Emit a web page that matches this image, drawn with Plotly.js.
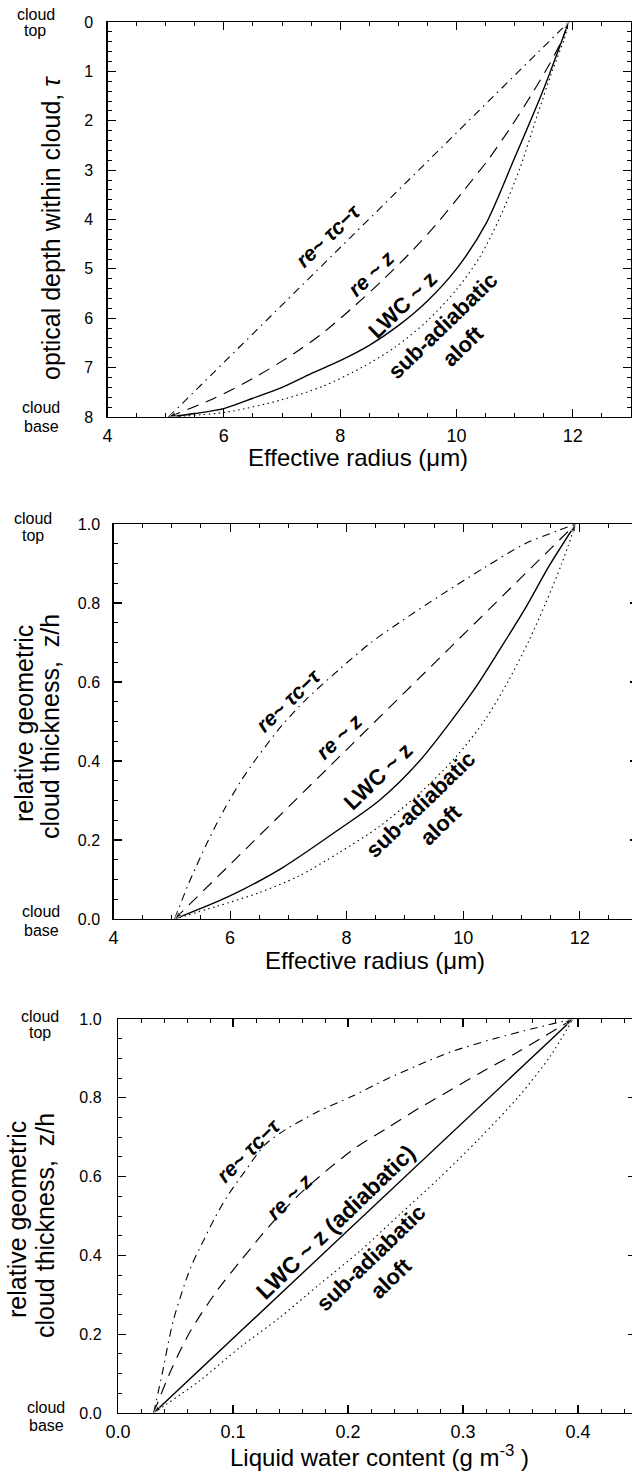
<!DOCTYPE html>
<html>
<head>
<meta charset="utf-8">
<script src="https://cdn.plot.ly/plotly-3.0.1.min.js"></script>
<style>
html,body{margin:0;padding:0;background:#fff;overflow:hidden;}
#chart{width:660px;height:1471px;}
</style>
</head>
<body>
<div id="chart"></div>
<script>
// ---------- DATA ----------
// Panel 1: optical depth within cloud (tau) vs effective radius (um)
const p1_r_dashdot   = [5.05, 11.93];
const p1_tau_dashdot = [8.0, 0.0];
const p1_r_dash      = [5.05, 5.8, 6.5, 7.2, 7.7, 8.2, 8.7, 9.2, 9.65, 10.1, 10.55, 10.95, 11.3, 11.6, 11.8, 11.93];
const p1_tau_dash    = [8.0, 7.64, 7.22, 6.72, 6.30, 5.80, 5.26, 4.68, 4.10, 3.45, 2.78, 2.10, 1.45, 0.85, 0.40, 0.0];
const p1_r_solid     = [5.05, 5.5, 6.0, 6.5, 7.0, 7.5, 8.0, 8.5, 9.0, 9.5, 10.0, 10.5, 11.0, 11.5, 11.93];
const p1_tau_solid   = [8.0, 7.93, 7.83, 7.62, 7.40, 7.12, 6.86, 6.55, 6.15, 5.65, 5.0, 4.1, 2.75, 1.35, 0.0];
const p1_r_dot       = [5.05, 6.05, 7.0, 7.7, 8.4, 8.95, 9.5, 10.0, 10.4, 10.75, 11.1, 11.38, 11.65, 11.85, 11.93];
const p1_tau_dot     = [8.0, 7.9, 7.65, 7.38, 6.98, 6.58, 6.05, 5.42, 4.76, 3.95, 2.93, 1.92, 0.98, 0.35, 0.0];

// Panel 2: relative geometric cloud thickness (z/h) vs effective radius (um)
const p2_r_dashdot = [5.05, 5.29, 5.63, 5.91, 6.19, 6.47, 6.89, 7.30, 7.86, 8.42, 8.97, 9.67, 10.37, 11.06, 11.62, 11.93];
const p2_z_dashdot = [0.0, 0.09, 0.20, 0.28, 0.35, 0.41, 0.49, 0.555, 0.63, 0.70, 0.757, 0.825, 0.89, 0.95, 0.983, 1.0];
const p2_r_dash    = [5.05, 11.93];
const p2_z_dash    = [0.0, 1.0];
const p2_r_solid   = [5.05, 5.98, 6.89, 7.86, 8.56, 9.25, 10.16, 10.64, 11.06, 11.48, 11.93];
const p2_z_solid   = [0.0, 0.057, 0.129, 0.226, 0.30, 0.40, 0.575, 0.685, 0.785, 0.895, 1.0];
const p2_r_dot     = [5.05, 5.77, 6.47, 7.17, 7.86, 8.56, 9.25, 9.88, 10.37, 10.78, 11.13, 11.41, 11.69, 11.93];
const p2_z_dot     = [0.0, 0.032, 0.065, 0.108, 0.167, 0.234, 0.318, 0.411, 0.503, 0.604, 0.705, 0.798, 0.899, 1.0];

// Panel 3: relative geometric cloud thickness (z/h) vs liquid water content (g m-3)
const p3_lwc_dashdot = [0.031, 0.039, 0.048, 0.063, 0.0724, 0.084, 0.0957, 0.110, 0.1275, 0.145, 0.174, 0.203, 0.232, 0.261, 0.29, 0.327, 0.364, 0.3956];
const p3_z_dashdot   = [0.0, 0.108, 0.234, 0.368, 0.426, 0.494, 0.553, 0.612, 0.680, 0.718, 0.765, 0.803, 0.845, 0.883, 0.917, 0.95, 0.978, 1.0];
const p3_lwc_dash    = [0.031, 0.046, 0.063, 0.086, 0.106, 0.125, 0.140, 0.157, 0.180, 0.206, 0.234, 0.262, 0.287, 0.316, 0.347, 0.3956];
const p3_z_dash      = [0.0, 0.108, 0.208, 0.31, 0.384, 0.452, 0.502, 0.553, 0.612, 0.672, 0.723, 0.774, 0.816, 0.865, 0.915, 1.0];
const p3_lwc_solid   = [0.031, 0.3956];
const p3_z_solid     = [0.0, 1.0];
const p3_lwc_dot     = [0.031, 0.0711, 0.1058, 0.1405, 0.175, 0.21, 0.2446, 0.279, 0.314, 0.349, 0.376, 0.3956];
const p3_z_dot       = [0.0, 0.082, 0.166, 0.242, 0.326, 0.41, 0.503, 0.595, 0.696, 0.805, 0.906, 1.0];

// Curve labels
const labelRe1   = "re~ τc−τ";
const labelRe2   = "re ~ z";
const labelLwc   = "LWC ~ z";
const labelLwcAd = "LWC ~ z (adiabatic)";
const labelSub   = "sub-adiabatic<br>aloft";

// Axis texts
const yTitle1  = "optical depth within cloud, <i>τ</i>";
const yTitleA  = "relative geometric";
const yTitleB  = "cloud thickness,  z/h";
const xTitle12 = "Effective radius (μm)";
const xTitle3  = "Liquid water content (g m<sup>-3</sup> )";

// ---------- LAYOUT HELPERS ----------
const W = 660, H = 1471;
const FONT = "Liberation Sans, Arial, Helvetica, sans-serif";
const px = v => v / W;
const py = v => 1 - v / H;

const styles = {
  dashdot: {color: "#000", width: 1.1, dash: "8px,5px,1.5px,5px"},
  dash:    {color: "#000", width: 1.15, dash: "12px,8px"},
  solid:   {color: "#000", width: 1.4},
  dot:     {color: "#000", width: 1.1, dash: "1.5px,3.5px"}
};

function tr(x, y, st, xa, ya) {
  const line = Object.assign({}, styles[st]);
  if (x.length > 2) { line.shape = "spline"; line.smoothing = 0.8; }
  return {x: x, y: y, type: "scatter", mode: "lines", line: line,
          xaxis: xa, yaxis: ya, hoverinfo: "skip", showlegend: false};
}
// arrowhead at the end of a two-point segment taken from a series
function head(x0, y0, x1, y1, xa, ya) {
  return {x: [x0, x1], y: [y0, y1], type: "scatter", mode: "markers",
          marker: {symbol: "arrow", angleref: "previous", size: [0, 8], color: "#000"},
          xaxis: xa, yaxis: ya, hoverinfo: "skip", showlegend: false};
}

const n1 = p1_r_dash.length, n3 = p3_lwc_dash.length;
const data = [
  tr(p1_r_dashdot, p1_tau_dashdot, "dashdot", "x", "y"),
  tr(p1_r_dash, p1_tau_dash, "dash", "x", "y"),
  tr(p1_r_solid, p1_tau_solid, "solid", "x", "y"),
  tr(p1_r_dot, p1_tau_dot, "dot", "x", "y"),
  tr(p2_r_dashdot, p2_z_dashdot, "dashdot", "x2", "y2"),
  tr(p2_r_dash, p2_z_dash, "dash", "x2", "y2"),
  tr(p2_r_solid, p2_z_solid, "solid", "x2", "y2"),
  tr(p2_r_dot, p2_z_dot, "dot", "x2", "y2"),
  tr(p3_lwc_dashdot, p3_z_dashdot, "dashdot", "x3", "y3"),
  tr(p3_lwc_dash, p3_z_dash, "dash", "x3", "y3"),
  tr(p3_lwc_solid, p3_z_solid, "solid", "x3", "y3"),
  tr(p3_lwc_dot, p3_z_dot, "dot", "x3", "y3"),
  head(p1_r_dash[n1-2], p1_tau_dash[n1-2], p1_r_dash[n1-1], p1_tau_dash[n1-1], "x", "y"),
  head(p1_r_dash[1], p1_tau_dash[1], p1_r_dash[0], p1_tau_dash[0], "x", "y"),
  head(p2_r_dot[12], p2_z_dot[12], p2_r_dot[13], p2_z_dot[13], "x2", "y2"),
  head(p2_r_dash[1], p2_z_dash[1], p2_r_dash[0], p2_z_dash[0], "x2", "y2"),
  head(p3_lwc_dash[n3-2], p3_z_dash[n3-2], p3_lwc_dash[n3-1], p3_z_dash[n3-1], "x3", "y3"),
  head(p3_lwc_solid[1], p3_z_solid[1], p3_lwc_solid[0], p3_z_solid[0], "x3", "y3")
];

function axis(o) {
  return Object.assign({
    showline: true, linecolor: "#000", linewidth: 1.2, mirror: "allticks",
    ticks: "inside", ticklen: 8, tickwidth: 1.1, tickcolor: "#000",
    showgrid: false, zeroline: false, fixedrange: true,
    tickfont: {family: FONT, size: 16, color: "#000"}
  }, o);
}
function minor(d) {
  return {dtick: d, ticks: "inside", ticklen: 4, tickwidth: 1, tickcolor: "#000", showgrid: false};
}

const xTickFont = {family: FONT, size: 18, color: "#000"};

const layout = {
  width: W, height: H,
  margin: {l: 0, r: 0, t: 0, b: 0},
  paper_bgcolor: "#fff", plot_bgcolor: "#fff",
  font: {family: FONT, color: "#000"},
  showlegend: false,
  xaxis:  axis({domain: [px(107.5), px(631)], range: [4, 13], tick0: 4, dtick: 2, minor: minor(0.5), anchor: "y", tickfont: xTickFont, ticklabelstandoff: 2}),
  yaxis:  axis({domain: [py(417), py(22)], range: [8, 0], tick0: 0, dtick: 1, minor: minor(0.2), anchor: "x", ticklabelstandoff: 10}),
  xaxis2: axis({domain: [px(113.5), px(638)], range: [4, 13], tick0: 4, dtick: 2, minor: minor(0.5), anchor: "y2", tickfont: xTickFont, ticklabelstandoff: 2}),
  yaxis2: axis({domain: [py(919), py(524)], range: [0, 1], tick0: 0, dtick: 0.2, tickformat: ".1f", minor: minor(0.05), anchor: "x2", ticklabelstandoff: 9}),
  xaxis3: axis({domain: [px(118), px(635.5)], range: [0, 0.45], tick0: 0, dtick: 0.1, tickformat: ".1f", minor: minor(0.02), anchor: "y3", tickfont: xTickFont, ticklabelstandoff: 2}),
  yaxis3: axis({domain: [py(1413), py(1019)], range: [0, 1], tick0: 0, dtick: 0.2, tickformat: ".1f", minor: minor(0.05), anchor: "x3", ticklabelstandoff: 12}),
  annotations: []
};

const A = layout.annotations;
function paperText(text, x, y, size, angle) {
  A.push({text: text, xref: "paper", yref: "paper", x: px(x), y: py(y),
    xanchor: "center", yanchor: "middle", showarrow: false, textangle: angle || 0,
    font: {family: FONT, size: size, color: "#000"}});
}
function dataText(text, xa, ya, x, y, size, angle) {
  A.push({text: text, xref: xa, yref: ya, x: x, y: y, xanchor: "center", yanchor: "middle",
    showarrow: false, textangle: angle, font: {family: FONT, size: size, color: "#000"}});
}

// axis titles
paperText(yTitle1, 51, 228, 25, -90);
paperText(yTitleA, 24, 724, 25, -90);
paperText(yTitleB, 50, 727, 25, -90);
paperText(yTitleA, 17, 1220, 25, -90);
paperText(yTitleB, 45, 1226, 25, -90);
paperText(xTitle12, 358, 458, 24, 0);
paperText(xTitle12, 375, 960, 24, 0);
paperText(xTitle3, 379, 1456, 24, 0);

// cloud top / cloud base markers
paperText("cloud", 36, 15, 16); paperText("top", 35, 30, 16);
paperText("cloud", 41, 407, 16); paperText("base", 42, 427, 16);
paperText("cloud", 33, 518, 16); paperText("top", 33, 535, 16);
paperText("cloud", 41, 911, 16); paperText("base", 42, 930, 16);
paperText("cloud", 40, 1016, 16); paperText("top", 40, 1032, 16);
paperText("cloud", 46, 1407, 16); paperText("base", 46, 1425, 16);

// curve labels
const ANG = -44;
dataText("<b><i>" + labelRe1 + "</i></b>", "x", "y", 7.79, 4.33, 21, ANG);
dataText("<b><i>" + labelRe2 + "</i></b>", "x", "y", 8.53, 5.10, 21, ANG);
dataText("<b>" + labelLwc + "</b>", "x", "y", 9.08, 5.72, 22, ANG);
dataText("<b>" + labelSub + "</b>", "x", "y", 9.94, 6.36, 22, ANG);

dataText("<b><i>" + labelRe1 + "</i></b>", "x2", "y2", 6.99, 0.554, 21, ANG);
dataText("<b><i>" + labelRe2 + "</i></b>", "x2", "y2", 7.87, 0.461, 21, ANG);
dataText("<b>" + labelLwc + "</b>", "x2", "y2", 8.54, 0.36, 22, ANG);
dataText("<b>" + labelSub + "</b>", "x2", "y2", 9.44, 0.263, 22, ANG);

dataText("<b><i>" + labelRe1 + "</i></b>", "x3", "y3", 0.113, 0.667, 21, -45);
dataText("<b><i>" + labelRe2 + "</i></b>", "x3", "y3", 0.149, 0.549, 21, -45);
dataText("<b>" + labelLwcAd + "</b>", "x3", "y3", 0.189, 0.486, 23, ANG);
dataText("<b>" + labelSub + "</b>", "x3", "y3", 0.229, 0.368, 22, ANG);

Plotly.newPlot("chart", data, layout, {displayModeBar: false, staticPlot: true});
</script>
</body>
</html>
